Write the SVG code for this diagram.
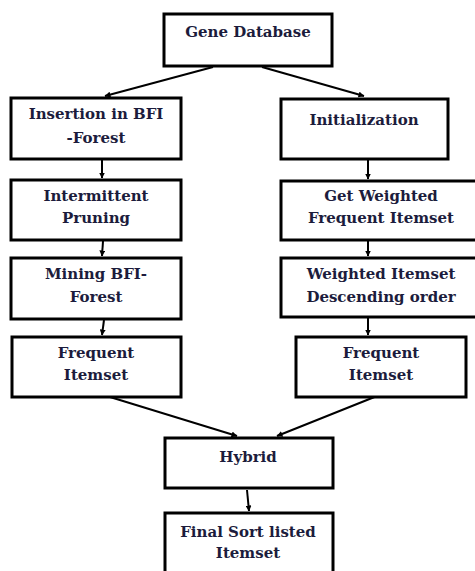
<svg xmlns="http://www.w3.org/2000/svg" width="475" height="571" viewBox="0 0 475 571">
<style>
.box{fill:#fff;stroke:#000;stroke-width:3}
.t{font-family:"DejaVu Serif","Liberation Serif",serif;font-weight:bold;font-size:15px;fill:#1c1c3c;text-anchor:middle}
.c{stroke:#000;stroke-width:2;fill:none;marker-end:url(#ah)}
</style>
<defs>
<marker id="ah" viewBox="0 0 6 6" refX="5.5" refY="3" markerWidth="3" markerHeight="3" orient="auto" markerUnits="strokeWidth">
<path d="M0,0 L6,3 L0,6 z" fill="#000"/>
</marker>
</defs>
<rect width="475" height="571" fill="#fff"/>
<g id="connectors">
<line class="c" x1="213" y1="67" x2="105" y2="96"/>
<line class="c" x1="262" y1="67" x2="364" y2="96"/>
<line class="c" x1="102" y1="160" x2="102" y2="178"/>
<line class="c" x1="103" y1="241" x2="102" y2="256"/>
<line class="c" x1="104" y1="320" x2="102" y2="335"/>
<line class="c" x1="368" y1="160" x2="368" y2="179"/>
<line class="c" x1="368" y1="241" x2="368" y2="256"/>
<line class="c" x1="368" y1="318" x2="368" y2="335"/>
<line class="c" x1="110" y1="397" x2="237" y2="436"/>
<line class="c" x1="377" y1="396" x2="277" y2="436"/>
<line class="c" x1="247" y1="490" x2="249" y2="511"/>
</g>
<g id="gene-database">
<rect class="box" x="164" y="14" width="168" height="52"/>
<text class="t" x="248" y="37">Gene Database</text>
</g>
<g id="insertion">
<rect class="box" x="11" y="98" width="170" height="61"/>
<text class="t" x="96" y="119">Insertion in BFI</text>
<text class="t" x="96" y="143">-Forest</text>
</g>
<g id="pruning">
<rect class="box" x="11" y="180" width="170" height="60"/>
<text class="t" x="96" y="201">Intermittent</text>
<text class="t" x="96" y="223">Pruning</text>
</g>
<g id="mining">
<rect class="box" x="11" y="258" width="170" height="61"/>
<text class="t" x="96" y="279">Mining BFI-</text>
<text class="t" x="96" y="302">Forest</text>
</g>
<g id="frequent-left">
<rect class="box" x="12" y="337" width="169" height="60"/>
<text class="t" x="96" y="358">Frequent</text>
<text class="t" x="96" y="380">Itemset</text>
</g>
<g id="initialization">
<rect class="box" x="281" y="99" width="167" height="60"/>
<text class="t" x="364" y="125">Initialization</text>
</g>
<g id="get-weighted">
<rect class="box" x="281" y="181" width="202" height="59"/>
<text class="t" x="381" y="201">Get Weighted</text>
<text class="t" x="381" y="223">Frequent Itemset</text>
</g>
<g id="weighted-order">
<rect class="box" x="281" y="258" width="202" height="59"/>
<text class="t" x="381" y="279">Weighted Itemset</text>
<text class="t" x="381" y="302">Descending order</text>
</g>
<g id="frequent-right">
<rect class="box" x="296" y="337" width="170" height="60"/>
<text class="t" x="381" y="358">Frequent</text>
<text class="t" x="381" y="380">Itemset</text>
</g>
<g id="hybrid">
<rect class="box" x="165" y="438" width="168" height="50"/>
<text class="t" x="248" y="462">Hybrid</text>
</g>
<g id="final">
<rect class="box" x="165" y="513" width="168" height="70"/>
<text class="t" x="248" y="537">Final Sort listed</text>
<text class="t" x="248" y="558">Itemset</text>
</g>
</svg>
